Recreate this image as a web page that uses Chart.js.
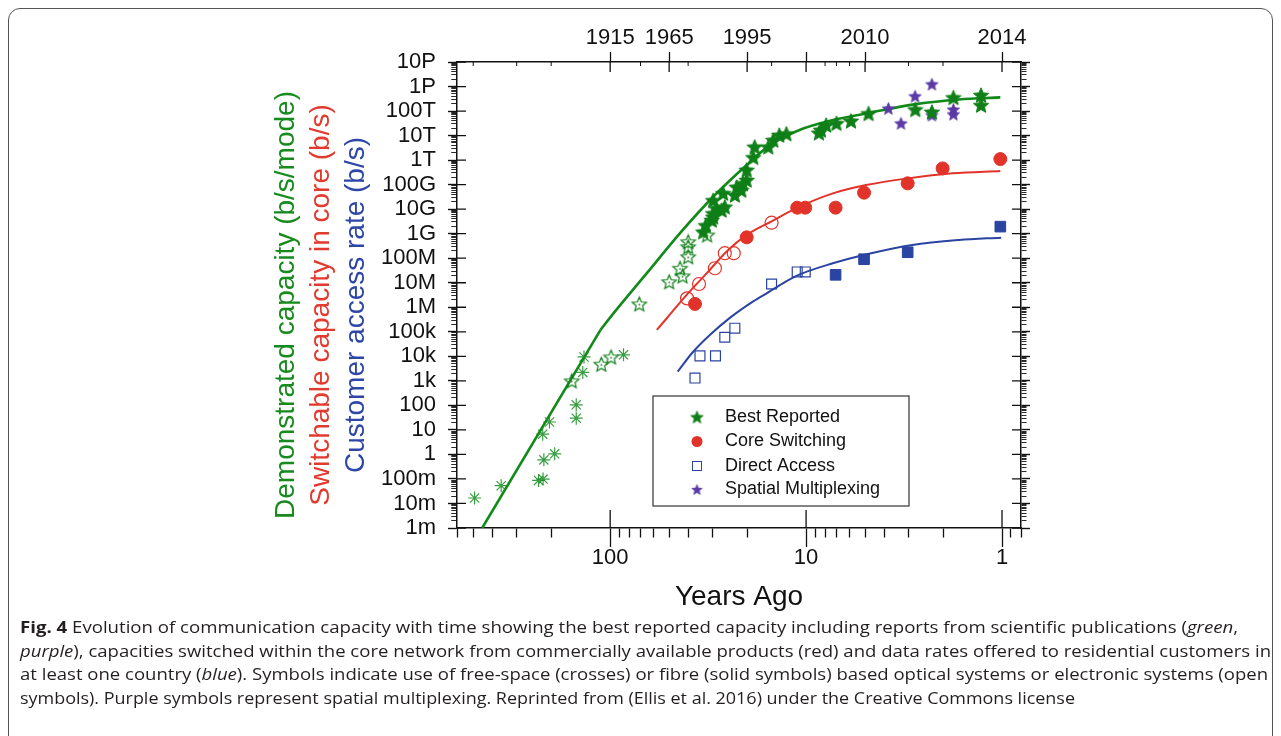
<!DOCTYPE html>
<html>
<head>
<meta charset="utf-8">
<script src="https://cdn.jsdelivr.net/npm/chart.js@4.4.0/dist/chart.umd.min.js"></script>
<style>
  html, body { margin: 0; padding: 0; background: #fff; }
  #wrap { position: relative; width: 1281px; height: 736px; overflow: hidden; }
  #frame { position: absolute; left: 8px; top: 8px; width: 1265px; height: 760px; border: 1.5px solid #555; border-radius: 12px; box-sizing: border-box; }
  #chart { position: absolute; left: 0; top: 0; }
  #caption { position: absolute; left: 20px; top: 616px; font-family: "Open Sans", sans-serif; font-size: 16px; line-height: 23.6px; color: #231f20; }
  #caption div { white-space: nowrap; transform-origin: 0 50%; width: max-content; }
</style>
</head>
<body>
<div id="wrap">
  <div id="frame"></div>
  <canvas id="chart" width="1281" height="736"></canvas>
  <div id="caption">
    <div data-w="1218"><b>Fig. 4</b> Evolution of communication capacity with time showing the best reported capacity including reports from scientific publications (<i>green</i>,</div>
    <div data-w="1251"><i>purple</i>), capacities switched within the core network from commercially available products (red) and data rates offered to residential customers in</div>
    <div data-w="1248">at least one country (<i>blue</i>). Symbols indicate use of free-space (crosses) or fibre (solid symbols) based optical systems or electronic systems (open</div>
    <div data-w="1055">symbols). Purple symbols represent spatial multiplexing. Reprinted from (Ellis et al. 2016) under the Creative Commons license</div>
  </div>
</div>
<script>
// years ago are counted back from 2015
const REF_YEAR = 2015;

// best reported, free-space optics (crosses)
const freeSpaceYears = [492, 360, 232, 220, 218, 192, 221, 204, 149, 149, 138, 136, 85.5];
const freeSpaceRate = [0.0167, 0.053, 0.087, 0.099, 0.6, 1.06, 6.7, 21, 105, 30, 2200, 9400, 11500];
// best reported, electronic (open stars)
const electronicYears = [157, 111, 99, 71, 50, 44, 42.7, 40, 40, 40, 32];
const electronicRate = [1.0e3, 4.8e3, 9.4e3, 1.37e6, 1.1e7, 3.9e7, 1.9e7, 1.15e8, 2.95e8, 4.7e8, 8.9e8];
// best reported, fibre (solid stars)
const fibreYears = [33.5, 32.5, 30.3, 29.8, 29.8, 28.7, 27, 26, 29.8, 26.5, 23.1, 22.6, 21.4, 21, 20.1, 20.1, 18.6, 18.3, 15.6, 14.7, 13.7, 12.6, 8.6, 8.4, 7.9, 7.0, 5.9, 4.8, 2.77, 2.28, 1.77, 1.28, 1.28];
const fibreRate = [1.2e9, 2.2e9, 3.6e9, 4.9e9, 6.8e9, 1.07e10, 9.2e9, 1.26e10, 2.3e10, 4.5e10, 3.8e10, 8.1e10, 6e10, 1.12e11, 1.55e11, 4e11, 1.3e12, 3.5e12, 3.5e12, 6.6e12, 1.05e13, 1.2e13, 1.3e13, 1.7e13, 2.7e13, 3.2e13, 4e13, 8e13, 1.17e14, 9.3e13, 3.6e14, 4.5e14, 1.75e14];
// spatial multiplexing
const spatialYears = [3.8, 3.28, 2.78, 2.28, 2.28, 1.77, 1.77];
const spatialRate = [1.29e14, 3.2e13, 4.07e14, 1.26e15, 6.9e13, 1.17e14, 7.5e13];
// core switching
const coreSolidYears = [36.9, 20.1, 11.1, 10.1, 7.07, 5.06, 3.03, 2.01, 1.02];
const coreSolidRate = [1.37e6, 7.1e8, 1.15e10, 1.15e10, 1.15e10, 4.7e10, 1.13e11, 4.6e11, 1.1e12];
const coreOpenYears = [40.5, 35.2, 29.2, 26, 23.4, 15];
const coreOpenRate = [2.3e6, 8.9e6, 3.9e7, 1.6e8, 1.6e8, 2.8e9];
// direct access
const accessOpenYears = [36.9, 34.8, 29, 26, 23.1, 15, 11.1, 10.1];
const accessOpenRate = [1.3e3, 1.04e4, 1.04e4, 6e4, 1.4e5, 8.9e6, 2.75e7, 2.75e7];
const accessSolidYears = [7.07, 5.06, 3.03, 1.02];
const accessSolidRate = [2.1e7, 9.1e7, 1.75e8, 1.94e9];
// trend curves (green one is straight up to ~112 years ago)
const greenLowYears = [450, 112];
const greenLowRate = [1e-3, 1.2e5];
const greenFitYears = [112, 96, 65, 44, 29.8, 20.1, 15.3, 10.8, 7.3, 4.94, 2.75, 1.66, 1.02];
const greenFitRate = [1.2e5, 5.75e5, 2.45e7, 1.05e9, 3.2e10, 6.3e11, 4.1e12, 1.7e13, 4.3e13, 8e13, 1.91e14, 2.96e14, 3.6e14];
const redFitYears = [57.8, 51.4, 40.7, 32.2, 25.5, 20.1, 15, 10.8, 7.3, 4.94, 3.03, 1.79, 1.02];
const redFitRate = [1.2e5, 3.57e5, 3.2e6, 2.4e7, 1.85e8, 8.9e8, 3.2e9, 1.26e10, 4.4e10, 9.6e10, 1.8e11, 2.9e11, 3.6e11];
const blueFitYears = [45.2, 37.8, 31, 24.5, 18.7, 15.9, 11.2, 7.3, 4.9, 2.87, 1.66, 1.01];
const blueFitRate = [2.4e3, 1.5e4, 7.4e4, 3.7e5, 1.7e6, 3.7e6, 1.9e7, 6.2e7, 1.45e8, 3.47e8, 5.5e8, 6.9e8];

// tick labels
const yTickLabels = ['1m', '10m', '100m', '1', '10', '100', '1k', '10k', '100k', '1M', '10M', '100M', '1G', '10G', '100G', '1T', '10T', '100T', '1P', '10P'];
const xTickValues = [1, 10, 100];
const xTickLabels = ['1', '10', '100'];
const topYears = [1915, 1965, 1995, 2005, 2010, 2014];
const topLabels = ['1915', '1965', '1995', '', '2010', '2014'];
const topMinorYears = [1515, 1715, 1815, 1945, 1975, 2000, 2007, 2008, 2009, 2012, 2013];

const legendNames = ['Best Reported', 'Core Switching', 'Direct Access', 'Spatial Multiplexing'];

const GREEN = '#0f7f17', RED = '#e2332a', BLUE = '#2b44a2', PURPLE = '#5b3aa6';
const INK = '#111';
const FONT = 'Liberation Sans, Arial, sans-serif';
Chart.defaults.font.family = FONT;

const X_MIN = 0.8, X_MAX = 605;

function isDecade(v) {
  const l = Math.log10(v);
  return Math.abs(l - Math.round(l)) < 1e-6;
}
function logTicks(lo, hi) {
  const out = [];
  for (let k = Math.floor(Math.log10(lo)); k <= Math.ceil(Math.log10(hi)); k++) {
    for (let m = 1; m <= 9; m++) {
      const v = Number(m + 'e' + k);
      if (v >= lo * 0.9999 && v <= hi * 1.0001) out.push(v);
    }
  }
  return out;
}
const pts = (xs, ys) => xs.map((x, i) => ({x: x, y: ys[i]}));

function starImage(r, fill, stroke, lw, dot) {
  const size = Math.ceil(2 * r + 4);
  const c = document.createElement('canvas');
  c.width = size; c.height = size;
  const g = c.getContext('2d');
  const cx = size / 2, cy = size / 2 + r * 0.1;
  g.beginPath();
  for (let i = 0; i < 10; i++) {
    const rr = i % 2 ? r * 0.45 : r;
    const a = -Math.PI / 2 + i * Math.PI / 5;
    g.lineTo(cx + rr * Math.cos(a), cy + rr * Math.sin(a));
  }
  g.closePath();
  if (fill) { g.fillStyle = fill; g.fill(); }
  if (stroke) { g.strokeStyle = stroke; g.lineWidth = lw; g.stroke(); }
  if (dot) { g.fillStyle = stroke; g.fillRect(cx - 0.8, cy - 0.8, 1.6, 1.6); }
  return c;
}
const greenStar = starImage(8, GREEN, GREEN, 1, false);
const openStar = starImage(7.5, null, GREEN, 1.2, true);
const purpleStar = starImage(6.5, PURPLE, PURPLE, 0.8, false);
const legendGreenStar = starImage(6.5, GREEN, GREEN, 0.8, false);
const legendPurpleStar = starImage(5.5, PURPLE, PURPLE, 0.6, false);

// major ticks of the reference cross the frame, draw the inner half
const innerTicks = {
  id: 'innerTicks',
  afterDatasetsDraw(chart) {
    const {ctx, chartArea: a, scales} = chart;
    ctx.save();
    ctx.strokeStyle = INK;
    ctx.lineWidth = 1.3;
    ctx.beginPath();
    logTicks(1e-3, 1e16).filter(isDecade).forEach(v => {
      const y = scales.y.getPixelForValue(v);
      ctx.moveTo(a.left, y); ctx.lineTo(a.left + 9, y);
      ctx.moveTo(a.right, y); ctx.lineTo(a.right - 9, y);
    });
    xTickValues.forEach(v => {
      const x = scales.x.getPixelForValue(v);
      ctx.moveTo(x, a.bottom); ctx.lineTo(x, a.bottom - 18);
    });
    topYears.forEach(yr => {
      const x = scales.x2.getPixelForValue(REF_YEAR - yr);
      ctx.moveTo(x, a.top); ctx.lineTo(x, a.top + 10);
    });
    ctx.stroke();
    ctx.lineWidth = 1;
    ctx.beginPath();
    topMinorYears.forEach(yr => {
      const x = scales.x2.getPixelForValue(REF_YEAR - yr);
      ctx.moveTo(x, a.top); ctx.lineTo(x, a.top + 4);
    });
    ctx.stroke();
    ctx.restore();
  }
};

// three coloured y-axis titles
const yTitles = {
  id: 'yTitles',
  afterDraw(chart) {
    const ctx = chart.ctx;
    const lines = [
      ['Demonstrated capacity (b/s/mode)', '#178a1d', 286],
      ['Switchable capacity in core (b/s)', '#e23a2e', 321],
      ['Customer access rate (b/s)', '#2e46a6', 356]
    ];
    ctx.save();
    ctx.font = '28px ' + FONT;
    ctx.textAlign = 'center';
    ctx.textBaseline = 'middle';
    lines.forEach(([t, col, x]) => {
      ctx.save();
      ctx.translate(x, 305);
      ctx.rotate(-Math.PI / 2);
      ctx.fillStyle = col;
      ctx.fillText(t, 0, 0);
      ctx.restore();
    });
    ctx.restore();
  }
};

// boxed legend inside the plot
const boxLegend = {
  id: 'boxLegend',
  afterDraw(chart) {
    const ctx = chart.ctx;
    const rows = [417, 441.5, 466, 489.5];
    ctx.save();
    ctx.fillStyle = '#fff';
    ctx.fillRect(653, 396, 256, 110);
    ctx.strokeStyle = '#333';
    ctx.lineWidth = 1.2;
    ctx.strokeRect(653, 396, 256, 110);
    const sx = 697;
    ctx.drawImage(legendGreenStar, sx - legendGreenStar.width / 2, rows[0] - legendGreenStar.height / 2);
    ctx.fillStyle = RED;
    ctx.beginPath(); ctx.arc(sx, rows[1], 5.5, 0, Math.PI * 2); ctx.fill();
    ctx.strokeStyle = BLUE; ctx.lineWidth = 1;
    ctx.strokeRect(sx - 4.5, rows[2] - 4.5, 9, 9);
    ctx.drawImage(legendPurpleStar, sx - legendPurpleStar.width / 2, rows[3] - legendPurpleStar.height / 2);
    ctx.fillStyle = INK;
    ctx.font = '18px ' + FONT;
    ctx.textBaseline = 'middle';
    legendNames.forEach((n, i) => ctx.fillText(n, 725, rows[i]));
    ctx.restore();
  }
};

const axisFont = {family: FONT, size: 22};
const fitLine = (years, rate, color, width, mode) => ({
  data: pts(years, rate), showLine: true, pointRadius: 0, borderColor: color, borderWidth: width,
  cubicInterpolationMode: mode, tension: 0
});

new Chart(document.getElementById('chart'), {
  type: 'scatter',
  data: {
    datasets: [
      {label: 'free-space', data: pts(freeSpaceYears, freeSpaceRate), pointStyle: 'star', pointRadius: 6.5, borderColor: 'rgba(25,140,35,0.85)', borderWidth: 1.2, backgroundColor: 'transparent'},
      {label: 'electronic', data: pts(electronicYears, electronicRate), pointStyle: openStar, pointRadius: 7},
      {label: 'Best Reported', data: pts(fibreYears, fibreRate), pointStyle: greenStar, pointRadius: 8},
      {label: 'Spatial Multiplexing', data: pts(spatialYears, spatialRate), pointStyle: purpleStar, pointRadius: 6},
      {label: 'Core Switching', data: pts(coreSolidYears, coreSolidRate), pointStyle: 'circle', pointRadius: 6.5, backgroundColor: RED, borderColor: RED, borderWidth: 1},
      {label: 'core open', data: pts(coreOpenYears, coreOpenRate), pointStyle: 'circle', pointRadius: 6.5, backgroundColor: 'transparent', borderColor: RED, borderWidth: 1.2},
      {label: 'Direct Access', data: pts(accessOpenYears, accessOpenRate), pointStyle: 'rect', pointRadius: 7, backgroundColor: 'transparent', borderColor: BLUE, borderWidth: 1.2},
      {label: 'access solid', data: pts(accessSolidYears, accessSolidRate), pointStyle: 'rect', pointRadius: 7.5, backgroundColor: BLUE, borderColor: BLUE, borderWidth: 1},
      Object.assign({label: 'green fit low'}, fitLine(greenLowYears, greenLowRate, '#128a1a', 2.6, 'default')),
      Object.assign({label: 'green fit'}, fitLine(greenFitYears, greenFitRate, '#128a1a', 2.6, 'monotone')),
      Object.assign({label: 'red fit'}, fitLine(redFitYears, redFitRate, RED, 2, 'monotone')),
      Object.assign({label: 'blue fit'}, fitLine(blueFitYears, blueFitRate, BLUE, 2, 'monotone'))
    ]
  },
  options: {
    responsive: false,
    animation: false,
    events: [],
    layout: {padding: 0},
    plugins: {legend: {display: false}, tooltip: {enabled: false}},
    scales: {
      x: {
        type: 'logarithmic', position: 'bottom', reverse: true, min: X_MIN, max: X_MAX,
        afterFit: s => { s.height = 208; },
        afterBuildTicks: s => { s.ticks = logTicks(X_MIN, X_MAX).map(v => ({value: v})); },
        ticks: {
          autoSkip: false, maxRotation: 0, minRotation: 0, padding: -2, color: INK, font: axisFont,
          callback: v => { const i = xTickValues.indexOf(v); return i >= 0 ? xTickLabels[i] : ''; }
        },
        grid: {
          drawOnChartArea: false, tickLength: 19, tickColor: INK, tickWidth: 1.3,
          tickBorderDash: c => (c.tick && isDecade(c.tick.value)) ? [] : [9, 100]
        },
        border: {color: INK, width: 1.5},
        title: {display: true, text: 'Years Ago', color: INK, font: {family: FONT, size: 28}, padding: {top: 0, bottom: 122}}
      },
      x2: {
        type: 'logarithmic', position: 'top', reverse: true, min: X_MIN, max: X_MAX,
        afterFit: s => { s.height = 62; },
        afterBuildTicks: s => { s.ticks = topYears.map(y => ({value: REF_YEAR - y})); },
        ticks: {
          autoSkip: false, maxRotation: 0, minRotation: 0, padding: 1, color: INK, font: axisFont,
          callback: v => { const i = topYears.indexOf(REF_YEAR - v); return i >= 0 ? topLabels[i] : ''; }
        },
        grid: {drawOnChartArea: false, tickLength: 10, tickColor: INK, tickWidth: 1.3},
        border: {color: INK, width: 1.5}
      },
      y: {
        type: 'logarithmic', position: 'left', min: 1e-3, max: 1e16,
        afterFit: s => { s.width = 457; },
        afterBuildTicks: s => { s.ticks = logTicks(1e-3, 1e16).map(v => ({value: v})); },
        ticks: {
          autoSkip: false, padding: 12, color: INK, font: axisFont,
          callback: v => isDecade(v) ? yTickLabels[Math.round(Math.log10(v)) + 3] : ''
        },
        grid: {
          drawOnChartArea: false, tickLength: 9, tickColor: INK,
          tickWidth: c => (c.tick && isDecade(c.tick.value)) ? 1.4 : 0.9,
          tickBorderDash: c => (c.tick && isDecade(c.tick.value)) ? [] : [5, 100],
          tickBorderDashOffset: c => (c.tick && isDecade(c.tick.value)) ? 0 : 101.75
        },
        border: {color: INK, width: 1.5}
      },
      y2: {
        type: 'logarithmic', position: 'right', min: 1e-3, max: 1e16,
        afterFit: s => { s.width = 260; },
        afterBuildTicks: s => { s.ticks = logTicks(1e-3, 1e16).map(v => ({value: v})); },
        ticks: {display: false},
        grid: {
          drawOnChartArea: false, tickLength: 9, tickColor: INK,
          tickWidth: c => (c.tick && isDecade(c.tick.value)) ? 1.4 : 0.9,
          tickBorderDash: c => (c.tick && isDecade(c.tick.value)) ? [] : [5, 100]
        },
        border: {color: INK, width: 1.5}
      }
    }
  },
  plugins: [innerTicks, yTitles, boxLegend]
});

// squeeze caption lines to the widths of the printed figure
document.querySelectorAll('#caption div').forEach(el => {
  const w = el.getBoundingClientRect().width;
  el.style.transform = 'scaleX(' + (Number(el.dataset.w) / w) + ')';
});
</script>
</body>
</html>
